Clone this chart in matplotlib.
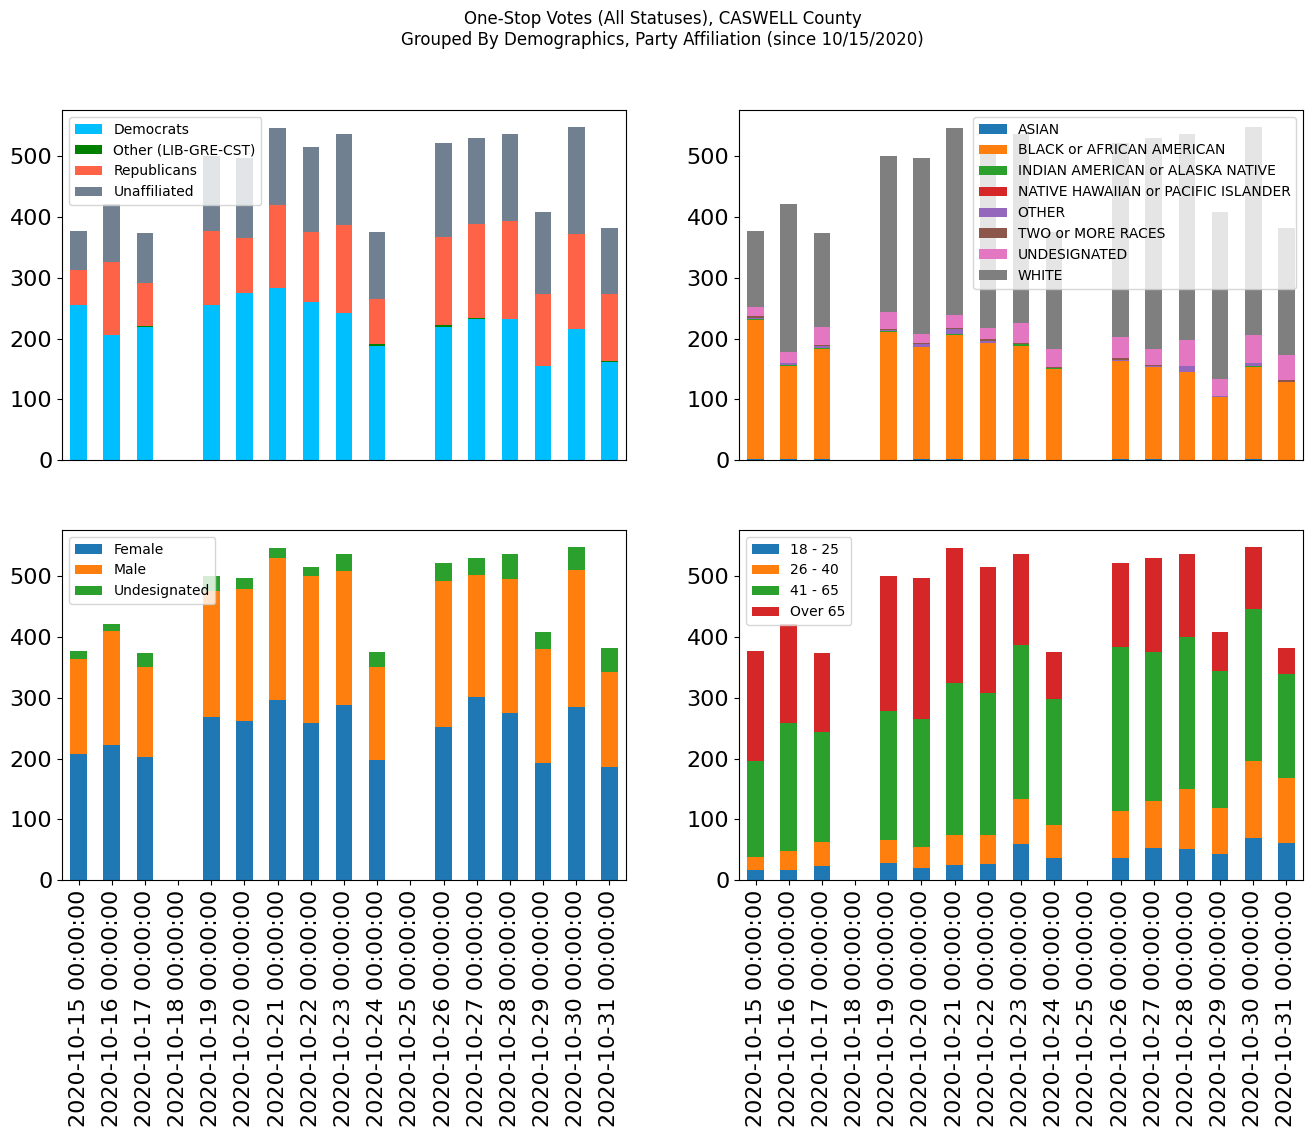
import numpy as np
import matplotlib
matplotlib.use("Agg")
import matplotlib.pyplot as plt

dates = ["2020-10-%02d 00:00:00" % d for d in range(15, 32)]

# party affiliation
party_labels = ["Democrats", "Other (LIB-GRE-CST)", "Republicans", "Unaffiliated"]
party_colors = ["deepskyblue", "green", "tomato", "slategray"]
democrats = [255, 206, 219, 0, 255, 275, 284, 261, 242, 188, 0, 219, 232, 232, 155, 215, 162]
other_party = [0, 0, 2, 0, 0, 0, 0, 0, 0, 3, 0, 3, 2, 0, 0, 1, 1]
republicans = [58, 120, 70, 0, 122, 91, 136, 115, 145, 74, 0, 145, 155, 162, 119, 157, 111]
unaffiliated = [64, 96, 83, 0, 124, 132, 127, 140, 150, 111, 0, 155, 142, 143, 135, 176, 108]

# race
race_labels = ["ASIAN", "BLACK or AFRICAN AMERICAN", "INDIAN AMERICAN or ALASKA NATIVE",
               "NATIVE HAWAIIAN or PACIFIC ISLANDER", "OTHER", "TWO or MORE RACES",
               "UNDESIGNATED", "WHITE"]
asian = [1, 1, 1, 0, 0, 1, 1, 0, 1, 0, 0, 1, 1, 0, 0, 1, 0]
black = [230, 153, 182, 0, 211, 185, 205, 193, 187, 150, 0, 162, 152, 145, 103, 152, 128]
indian = [1, 2, 1, 0, 1, 0, 2, 0, 3, 2, 0, 0, 0, 0, 0, 1, 0]
hawaiian = [0, 0, 0, 0, 0, 0, 0, 0, 0, 0, 0, 0, 0, 0, 1, 0, 0]
other_race = [2, 3, 3, 0, 2, 5, 8, 3, 0, 0, 0, 2, 2, 10, 1, 5, 1]
two_more = [3, 1, 3, 0, 1, 1, 1, 4, 2, 1, 0, 3, 1, 0, 1, 0, 2]
undesig_race = [15, 18, 29, 0, 29, 16, 22, 18, 33, 29, 0, 35, 27, 43, 27, 47, 42]
white = [125, 244, 155, 0, 257, 290, 308, 298, 311, 194, 0, 319, 348, 339, 276, 343, 209]

# gender
gender_labels = ["Female", "Male", "Undesignated"]
female = [208, 222, 203, 0, 269, 262, 297, 258, 288, 198, 0, 252, 302, 275, 193, 285, 186]
male = [156, 188, 147, 0, 207, 218, 234, 242, 221, 152, 0, 241, 201, 221, 188, 226, 157]
undesig_gender = [13, 12, 24, 0, 25, 18, 16, 16, 28, 26, 0, 29, 28, 41, 28, 38, 39]

# age groups
age_labels = ["18 - 25", "26 - 40", "41 - 65", "Over 65"]
age_18_25 = [17, 17, 23, 0, 28, 20, 25, 26, 59, 36, 0, 36, 53, 51, 43, 69, 61]
age_26_40 = [21, 31, 40, 0, 38, 34, 49, 48, 75, 55, 0, 78, 77, 99, 76, 127, 107]
age_41_65 = [158, 211, 181, 0, 213, 211, 251, 234, 253, 207, 0, 269, 246, 251, 226, 251, 172]
age_over_65 = [181, 163, 130, 0, 222, 233, 222, 208, 150, 78, 0, 139, 155, 136, 64, 102, 42]


def stacked(ax, series, labels, colors, loc):
    x = np.arange(len(dates))
    bottom = np.zeros(len(dates))
    for vals, lab, col in zip(series, labels, colors):
        ax.bar(x, vals, 0.5, bottom=bottom, color=col, label=lab)
        bottom += np.array(vals)
    ax.set_xlim(-0.5, len(dates) - 0.5)
    ax.tick_params(axis="y", labelsize=16)
    ax.legend(loc=loc, fontsize=10)


fig = plt.figure(figsize=(13.12, 11.37), dpi=100)
w, h = 564 / 1312, 350 / 1137
ax1 = fig.add_axes([62 / 1312, 1 - 460 / 1137, w, h])
ax2 = fig.add_axes([739 / 1312, 1 - 460 / 1137, w, h])
ax3 = fig.add_axes([62 / 1312, 1 - 880 / 1137, w, h])
ax4 = fig.add_axes([739 / 1312, 1 - 880 / 1137, w, h])

stacked(ax1, [democrats, other_party, republicans, unaffiliated], party_labels, party_colors, "upper left")
stacked(ax2, [asian, black, indian, hawaiian, other_race, two_more, undesig_race, white],
        race_labels, ["C%d" % i for i in range(8)], "upper right")
stacked(ax3, [female, male, undesig_gender], gender_labels, ["C0", "C1", "C2"], "upper left")
stacked(ax4, [age_18_25, age_26_40, age_41_65, age_over_65], age_labels, ["C0", "C1", "C2", "C3"], "upper left")

for ax in (ax1, ax2):
    ax.tick_params(axis="x", bottom=False, labelbottom=False)
for ax in (ax3, ax4):
    ax.set_xticks(np.arange(len(dates)))
    ax.set_xticklabels(dates, rotation=90, fontsize=16)

fig.suptitle("One-Stop Votes (All Statuses), CASWELL County\n"
             "Grouped By Demographics, Party Affiliation (since 10/15/2020)",
             x=0.505, y=0.991, fontsize=12)

fig.savefig("out.png", dpi=100)
